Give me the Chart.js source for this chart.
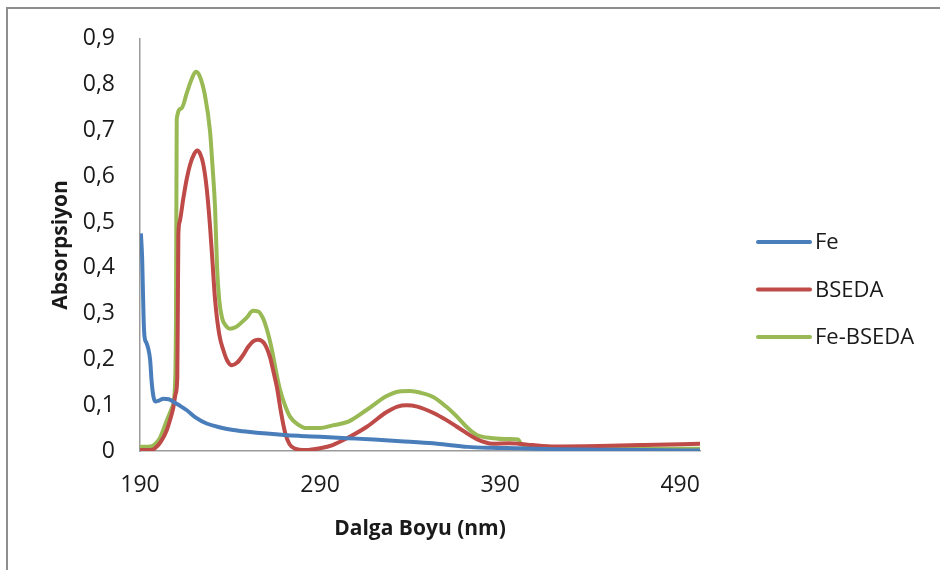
<!DOCTYPE html>
<html>
<head>
<meta charset="utf-8">
<script src="https://cdn.jsdelivr.net/npm/chart.js@4.4.1/dist/chart.umd.min.js"></script>
<style>
  html, body { margin: 0; padding: 0; background: #fff; overflow: hidden; }
  #wrap { position: relative; width: 940px; height: 570px; }
  #frame { position: absolute; left: 6px; top: 7px; width: 1000px; height: 1000px; border: 2px solid #8e8e8e; }
  #spectrum { position: absolute; left: 0; top: 0; }
</style>
</head>
<body>
<div id="wrap">
  <div id="frame"></div>
  <canvas id="spectrum" width="940" height="570"></canvas>
</div>
<script>
// UV-Vis absorption spectra, wavelength in nm
const seriesNames = ['Fe', 'BSEDA', 'Fe-BSEDA'];
const seriesColors = ['#4a7ebb', '#be4b48', '#98b954'];

const xTicks = [190, 290, 390, 490];
const yTickLabels = ['0', '0,1', '0,2', '0,3', '0,4', '0,5', '0,6', '0,7', '0,8', '0,9'];

const feNm = [190.5, 191.2, 192, 192.5, 193.5, 194.5, 195.6, 196.5, 197.5, 198.5, 200.5, 203, 206, 209, 212.5, 216, 221, 227, 234, 241.8, 250, 260.4, 270, 279, 290, 305, 320, 340, 355, 372, 385, 400, 420, 445, 470, 501];
const feAbs = [0.475, 0.42, 0.29, 0.25, 0.237, 0.225, 0.2, 0.15, 0.118, 0.108, 0.11, 0.114, 0.113, 0.106, 0.098, 0.089, 0.073, 0.06, 0.052, 0.046, 0.042, 0.038, 0.035, 0.033, 0.031, 0.028, 0.025, 0.02, 0.016, 0.009, 0.007, 0.006, 0.004, 0.003, 0.002, 0.001];

const bsedaNm = [190, 196, 198.3, 201.5, 204.8, 207, 208.5, 209.8, 210.7, 211, 211.3, 212, 214, 216, 217.8, 220, 221.8, 223.5, 225.2, 227, 228.9, 230.3, 231.7, 234, 236.3, 238.5, 241, 244, 247, 250, 253, 255.7, 259, 262.2, 264, 266, 268.3, 270.6, 273, 276, 282, 290, 297, 305, 316, 327, 333, 338, 344, 353, 360, 366, 377, 386, 395, 400, 408, 420, 445, 470, 501];
const bsedaAbs = [0.002, 0.002, 0.006, 0.02, 0.045, 0.072, 0.095, 0.125, 0.16, 0.3, 0.47, 0.5, 0.55, 0.595, 0.625, 0.648, 0.656, 0.648, 0.625, 0.575, 0.49, 0.41, 0.33, 0.255, 0.22, 0.197, 0.187, 0.193, 0.208, 0.227, 0.24, 0.243, 0.235, 0.205, 0.175, 0.14, 0.085, 0.04, 0.015, 0.005, 0.002, 0.006, 0.013, 0.028, 0.053, 0.085, 0.097, 0.1, 0.097, 0.083, 0.068, 0.053, 0.026, 0.016, 0.017, 0.016, 0.013, 0.01, 0.011, 0.013, 0.016];

const feBsedaNm = [190, 196, 198.3, 201, 202.8, 205, 207.8, 209.4, 210, 210.4, 213, 216, 218.5, 221, 223, 226, 228.9, 230.3, 231.7, 232.8, 234, 235.6, 238, 240, 243, 245.6, 249, 252.8, 255.5, 258.3, 261, 263.3, 265.5, 267.8, 270.5, 273.3, 277, 282.8, 290, 297, 305.7, 316, 327, 334, 340, 346, 352.8, 360, 366, 372, 377, 386, 395, 400, 402, 410, 418, 445, 470, 501];
const feBsedaAbs = [0.009, 0.01, 0.015, 0.028, 0.045, 0.068, 0.095, 0.14, 0.3, 0.725, 0.748, 0.782, 0.81, 0.828, 0.82, 0.778, 0.698, 0.62, 0.53, 0.4, 0.33, 0.29, 0.272, 0.267, 0.27, 0.278, 0.29, 0.306, 0.305, 0.29, 0.258, 0.22, 0.175, 0.133, 0.1, 0.075, 0.06, 0.05, 0.05, 0.056, 0.064, 0.09, 0.12, 0.13, 0.131, 0.127, 0.118, 0.097, 0.075, 0.05, 0.035, 0.028, 0.026, 0.025, 0.014, 0.011, 0.009, 0.006, 0.005, 0.005];

const toPoints = (xs, ys) => xs.map((x, i) => ({ x: x, y: ys[i] }));
const seriesData = [toPoints(feNm, feAbs), toPoints(bsedaNm, bsedaAbs), toPoints(feBsedaNm, feBsedaAbs)];

const FONT = '"Open Sans", "Liberation Sans", sans-serif';

// legend on the right: short line + name, drawn after the chart
const sideLegend = {
  id: 'sideLegend',
  afterDraw(chart) {
    const c = chart.ctx;
    const x0 = 758, x1 = 810, yStart = 242, gap = 47.5;
    c.save();
    c.font = '22px ' + FONT;
    c.textBaseline = 'middle';
    c.textAlign = 'left';
    chart.data.datasets.forEach((ds, i) => {
      const y = yStart + i * gap;
      c.strokeStyle = ds.borderColor;
      c.lineWidth = 4;
      c.lineCap = 'round';
      c.beginPath();
      c.moveTo(x0, y);
      c.lineTo(x1, y);
      c.stroke();
      c.fillStyle = '#1a1a1a';
      c.fillText(ds.label, 815, y + 1);
    });
    c.restore();
  }
};

new Chart(document.getElementById('spectrum'), {
  type: 'line',
  data: {
    datasets: seriesNames.map((name, i) => ({
      label: name,
      data: seriesData[i],
      borderColor: seriesColors[i],
      borderWidth: 4,
      pointRadius: 0,
      cubicInterpolationMode: 'monotone',
      fill: false
    }))
  },
  options: {
    responsive: false,
    animation: false,
    layout: { padding: { top: 37, right: 240, left: 0, bottom: 0 } },
    plugins: { legend: { display: false }, tooltip: { enabled: false } },
    scales: {
      x: {
        type: 'linear',
        min: 190,
        max: 501,
        grid: { display: false, drawTicks: false },
        border: { display: true, color: '#9a9a9a', width: 1.5 },
        afterBuildTicks: (axis) => { axis.ticks = xTicks.map(v => ({ value: v })); },
        afterFit: (axis) => { axis.height = 119; },
        ticks: {
          autoSkip: false,
          maxRotation: 0,
          padding: 21,
          color: '#1a1a1a',
          font: { family: FONT, size: 23 },
          callback: (v) => String(v)
        },
        title: {
          display: true,
          text: 'Dalga Boyu (nm)',
          color: '#1a1a1a',
          font: { family: FONT, size: 21, weight: 'bold' },
          padding: { top: 0, bottom: 28 }
        }
      },
      y: {
        min: 0,
        max: 0.9,
        grid: { display: false, drawTicks: false },
        border: { display: true, color: '#9a9a9a', width: 1.5 },
        afterFit: (axis) => { axis.width = 140; },
        ticks: {
          stepSize: 0.1,
          padding: 25,
          color: '#1a1a1a',
          font: { family: FONT, size: 23 },
          callback: (v) => yTickLabels[Math.round(v * 10)]
        },
        title: {
          display: true,
          text: 'Absorpsiyon',
          color: '#1a1a1a',
          font: { family: FONT, size: 21, weight: 'bold' },
          padding: { top: 48, bottom: 0 }
        }
      }
    }
  },
  plugins: [sideLegend]
});
</script>
</body>
</html>
